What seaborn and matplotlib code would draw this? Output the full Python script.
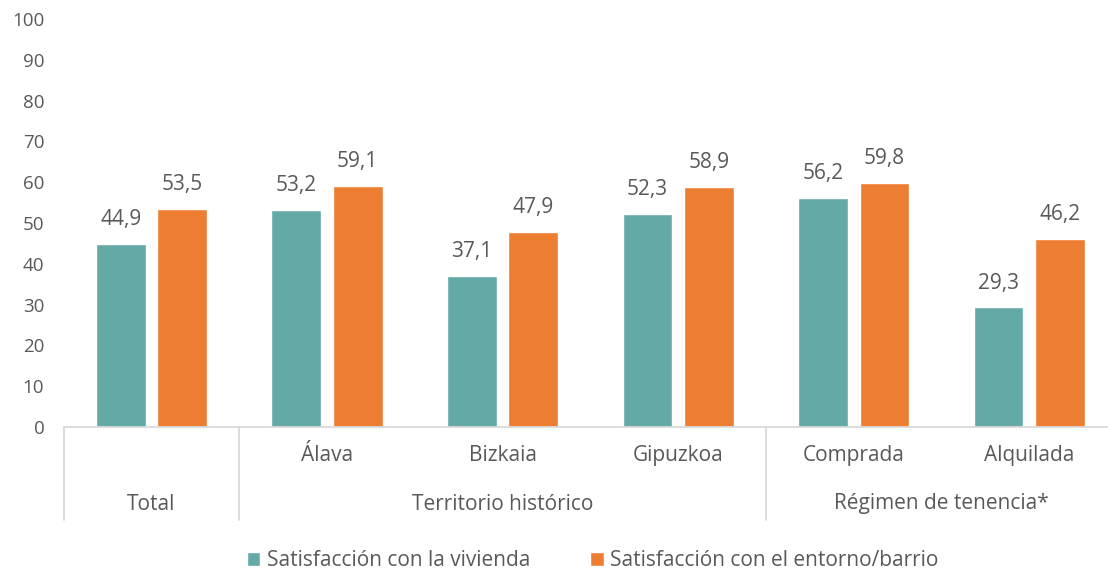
import matplotlib
matplotlib.use("Agg")
import matplotlib.pyplot as plt
import seaborn as sns
import pandas as pd

categories = ["Total", "Álava", "Bizkaia", "Gipuzkoa", "Comprada", "Alquilada"]
tick_labels = ["", "Álava", "Bizkaia", "Gipuzkoa", "Comprada", "Alquilada"]
series_names = ["Satisfacción con la vivienda", "Satisfacción con el entorno/barrio"]
vivienda = [44.9, 53.2, 37.1, 52.3, 56.2, 29.3]
entorno = [53.5, 59.1, 47.9, 58.9, 59.8, 46.2]
groups = [("Total", 0, 0), ("Territorio histórico", 1, 3), ("Régimen de tenencia*", 4, 5)]
colors = ["#63AAA6", "#ED7D31"]

df = pd.DataFrame({
    "cat": categories * 2,
    "val": vivienda + entorno,
    "serie": [series_names[0]] * 6 + [series_names[1]] * 6,
})

sns.set_theme(style="white")
plt.rcParams["font.family"] = ["Open Sans", "DejaVu Sans"]
text_color = "#595959"
line_color = "#D9D9D9"
fs = 15
fs_y = 13.5

fig = plt.figure(figsize=(11.08, 5.73), dpi=100)
ax = fig.add_axes([63.7 / 1108, 1 - 427 / 573, (1117 - 63.7) / 1108, (427 - 19) / 573])

sns.barplot(data=df, x="cat", y="val", hue="serie", order=categories,
            hue_order=series_names, palette=colors, width=0.70, gap=0.19,
            saturation=1, ax=ax, legend=True)

for cont in ax.containers:
    vals = [b.get_height() for b in cont]
    ax.bar_label(cont, labels=[f"{v:.1f}".replace(".", ",") for v in vals],
                 padding=10, fontsize=fs, color=text_color)

ax.set_ylim(0, 100)
ax.set_yticks(range(0, 101, 10))
ax.set_xlim(-0.5, 5.5)
ax.set_xticks(range(6))
ax.set_xticklabels(tick_labels)
ax.set_xlabel("")
ax.set_ylabel("")
ax.tick_params(axis="y", length=0, labelsize=fs_y, labelcolor=text_color, pad=14)
ax.tick_params(axis="x", length=0, labelsize=fs, labelcolor=text_color, pad=13)

for s in ["top", "right", "left"]:
    ax.spines[s].set_visible(False)
ax.spines["bottom"].set_color(line_color)
ax.spines["bottom"].set_linewidth(1.3)

# group separators
sep_depth = (520 - 427) / 408
for xs in [-0.5, 0.5, 3.5]:
    ax.plot([xs, xs], [0, -sep_depth], transform=ax.get_xaxis_transform(),
            color=line_color, lw=1.3, clip_on=False)

for name, i0, i1 in groups:
    ax.text((i0 + i1) / 2, -(504 - 427) / 408, name, transform=ax.get_xaxis_transform(),
            ha="center", va="center", fontsize=fs, color=text_color)

handles, labels = ax.get_legend_handles_labels()
ax.legend_.remove()
fig.legend(handles, labels, loc="center", bbox_to_anchor=(0.535, 1 - 561 / 573), ncol=2,
           frameon=False, fontsize=fs, labelcolor=text_color, handlelength=0.65,
           handleheight=0.65, handletextpad=0.3, columnspacing=2.9)

fig.savefig("out.png", dpi=100)
